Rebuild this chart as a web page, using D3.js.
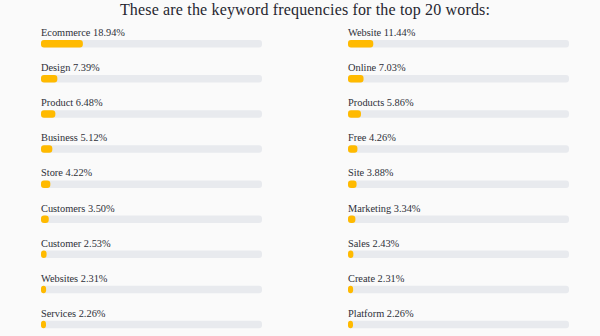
<!DOCTYPE html>
<html><head><meta charset="utf-8">
<script src="https://cdn.jsdelivr.net/npm/d3@7"></script>
<style>html,body{margin:0;padding:0;background:#fafafa;}svg{display:block;}</style>
</head><body>
<svg id="c" width="600" height="336"></svg>
<script>
const title = "These are the keyword frequencies for the top 20 words:";
const words = ["Ecommerce","Website","Design","Online","Product","Products","Business","Free","Store","Site","Customers","Marketing","Customer","Sales","Websites","Create","Services","Platform"];
const values = [18.94,11.44,7.39,7.03,6.48,5.86,5.12,4.26,4.22,3.88,3.50,3.34,2.53,2.43,2.31,2.31,2.26,2.26];

const svg = d3.select("#c");
const font = "'Liberation Serif', 'DejaVu Serif', serif";
const barW = 221;
const x = d3.scaleLinear().domain([0,100]).range([0,barW]);
const col = d3.scaleOrdinal().domain([0,1]).range([41,348]);
const row = d3.scaleLinear().domain([0,1]).range([36,71.1]);

function measure(txt, size){
  const t = svg.append("text").attr("font-family",font).attr("font-size",size).text(txt);
  const w = t.node().getComputedTextLength(); t.remove();
  return w;
}
const titleSize = 16;
const titleSpacing = (370 - measure(title, titleSize)) / (title.length - 1);
const labelSize = 11 * 84 / measure("Ecommerce 18.94%", 11);

svg.append("text").attr("x",305).attr("y",14.5).attr("text-anchor","middle")
  .attr("font-family",font).attr("font-size",titleSize)
  .attr("letter-spacing",titleSpacing).attr("fill","#26262f").text(title);

const data = words.map((w,i)=>({w, v:values[i], c:i%2, r:Math.floor(i/2)}));
const g = svg.selectAll("g.item").data(data).join("g").attr("class","item")
  .attr("transform",d=>`translate(${col(d.c)},${row(d.r)})`);
g.append("text").attr("x",0).attr("y",0).attr("font-family",font).attr("font-size",labelSize)
  .attr("fill","#2d2f38").text(d=>`${d.w} ${d.v.toFixed(2)}%`);
g.append("rect").attr("x",0).attr("y",4).attr("width",barW).attr("height",7.5).attr("rx",3)
  .attr("fill","#e8eaee");
g.append("rect").attr("x",0).attr("y",4).attr("width",d=>x(d.v)).attr("height",7.5).attr("rx",3)
  .attr("fill","#ffba00");
</script>
</body></html>
